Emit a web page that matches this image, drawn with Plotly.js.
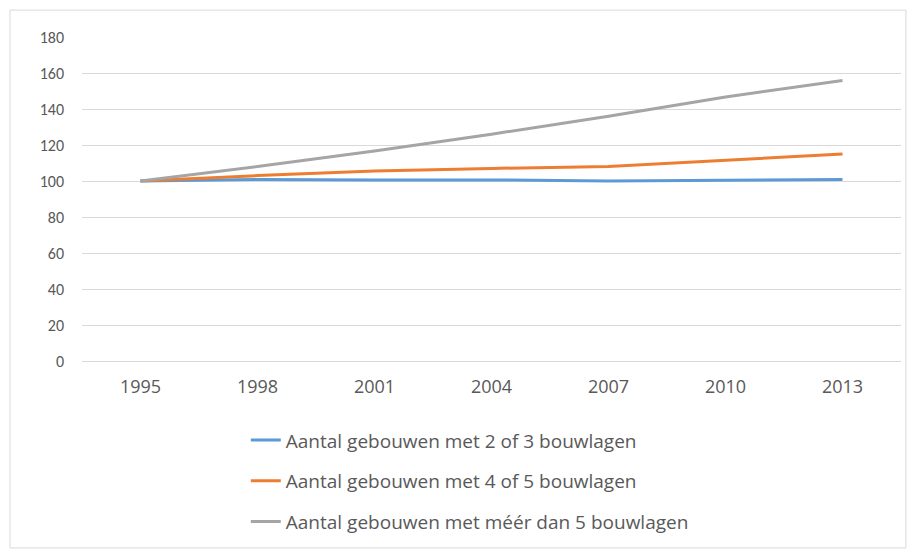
<!DOCTYPE html>
<html><head><meta charset="utf-8">
<script src="https://cdn.plot.ly/plotly-3.0.1.min.js"></script>
<style>html,body{margin:0;padding:0;background:#fff}#chart{width:913px;height:551px}</style>
</head><body><div id="chart"></div>
<script>
const years = ['1995','1998','2001','2004','2007','2010','2013'];
const series23 = [100, 100.8, 100.6, 100.6, 100, 100.6, 100.8];
const series45 = [100, 103, 105.5, 107, 108, 111.5, 115];
const seriesMeer = [100, 108, 116.7, 126, 136, 146.7, 155.8];
const names = ['Aantal gebouwen met 2 of 3 bouwlagen','Aantal gebouwen met 4 of 5 bouwlagen','Aantal gebouwen met méér dan 5 bouwlagen'];
const colors = ['#5b9bd5','#ed7d31','#a5a5a5'];
const yTicks = [0,20,40,60,80,100,120,140,160,180];

const data = [series23, series45, seriesMeer].map((v,i)=>({
  type:'scatter', mode:'lines', x: years, y: v, name: names[i],
  legendgroup: 'g'+i,
  line:{color: colors[i], width: 3}
}));
const layout = {
  width: 913, height: 551,
  margin:{l:82, r:12, t:37, b:190, autoexpand:false},
  paper_bgcolor:'#fff', plot_bgcolor:'#fff',
  font:{family: "'Open Sans', sans-serif", color:'#595959', size:14},
  showlegend: true,
  legend:{x: 0.2, y: -0.186, xanchor:'left', yanchor:'top', orientation:'v',
    tracegroupgap: 13, font:{family:"'Open Sans', sans-serif", size:19, color:'#595959'}, bgcolor:'rgba(0,0,0,0)'},
  xaxis:{type:'category', range:[-0.5,6.5], showgrid:false, zeroline:false, showline:false, automargin:false,
    ticks:'', ticklabelstandoff: 13, tickfont:{family:"'Open Sans', sans-serif", size:18, color:'#595959'}, fixedrange:true},
  yaxis:{range:[0,180], tickvals: yTicks, showgrid:true, gridcolor:'#d9d9d9', gridwidth:1, automargin:false,
    zeroline:true, zerolinecolor:'#d9d9d9', showline:false, ticks:'', ticklabelstandoff: 17,
    tickfont:{family:"'Liberation Sans Narrow', Carlito, sans-serif", size:16, color:'#595959'}, fixedrange:true},
  shapes:[{type:'rect', xref:'paper', yref:'paper', x0:-0.0879, x1:1.006, y0:-0.577, y1:1.083,
    line:{color:'#d9d9d9', width:1}, fillcolor:'rgba(0,0,0,0)', layer:'below'}]
};
Plotly.newPlot('chart', data, layout, {displayModeBar:false, staticPlot:true});
</script></body></html>
